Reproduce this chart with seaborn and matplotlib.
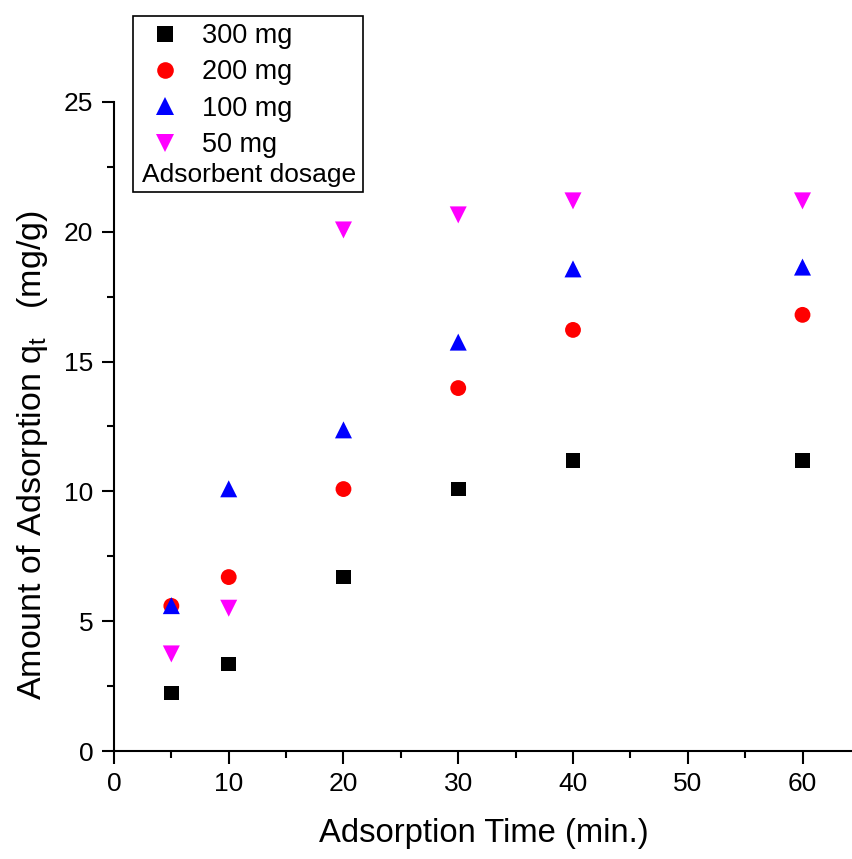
import matplotlib
matplotlib.use("Agg")
import matplotlib.pyplot as plt
from matplotlib.ticker import MultipleLocator
from matplotlib.patches import Rectangle
from matplotlib.lines import Line2D
import seaborn as sns
import pandas as pd

time_min = [5, 10, 20, 30, 40, 60]
q_300 = [2.23, 3.35, 6.70, 10.09, 11.20, 11.20]
q_200 = [5.59, 6.70, 10.09, 13.98, 16.22, 16.80]
q_100 = [5.60, 10.10, 12.37, 15.75, 18.57, 18.64]
q_50 = [3.74, 5.50, 20.07, 20.65, 21.19, 21.19]
series_labels = ["300 mg", "200 mg", "100 mg", "50 mg"]
legend_title = "Adsorbent dosage"

sns.set_theme(style="ticks")
plt.rcParams['font.family'] = ['Liberation Sans', 'DejaVu Sans']
plt.rcParams.update({
    "text.color": "black", "axes.labelcolor": "black",
    "xtick.color": "black", "ytick.color": "black",
    "mathtext.fontset": "custom", "mathtext.rm": "Liberation Sans",
    "mathtext.it": "Liberation Sans", "mathtext.default": "regular",
})

fig = plt.figure(figsize=(8.53, 8.59), dpi=100)
ax = fig.add_axes([0.1336, 0.1257, 0.8664, 0.7556])

styles = [
    ("s", "black", 110),
    ("o", "#ff0000", 130),
    ("^", "#0000ff", 150),
    ("v", "#ff00ff", 150),
]
all_q = [q_300, q_200, q_100, q_50]
handles = []
for q, lab, (m, c, s) in zip(all_q, series_labels, styles):
    df = pd.DataFrame({"t": time_min, "q": q})
    sns.scatterplot(data=df, x="t", y="q", marker=m, color=c, s=s,
                    edgecolor="none", linewidth=0, ax=ax, zorder=3)
    handles.append(Line2D([], [], marker=m, color=c, linestyle="none",
                          markersize=s ** 0.5 * 1.05, markeredgewidth=0))

ax.set_xlim(0, 64.4)
ax.set_ylim(0, 25)
ax.xaxis.set_major_locator(MultipleLocator(10))
ax.xaxis.set_minor_locator(MultipleLocator(5))
ax.yaxis.set_major_locator(MultipleLocator(5))
ax.yaxis.set_minor_locator(MultipleLocator(2.5))
for sp in ["top", "right"]:
    ax.spines[sp].set_visible(False)
for sp in ["left", "bottom"]:
    ax.spines[sp].set_linewidth(1.5)
    ax.spines[sp].set_color("black")
ax.tick_params(which="major", direction="out", length=9, width=1.5,
               labelsize=19, colors="black", pad=6)
ax.tick_params(which="minor", direction="out", length=5, width=1.5,
               colors="black")
ax.set_xlabel("Adsorption Time (min.)", fontsize=23.6, labelpad=16)
ax.set_ylabel("Amount of Adsorption q$_t$   (mg/g)", fontsize=24.5)
ax.yaxis.set_label_coords(-0.087, 0.456)

leg = fig.legend(handles=handles, labels=series_labels, loc="upper left",
                 bbox_to_anchor=(0.177, 0.973), frameon=False, fontsize=19.5,
                 handlelength=1.0, handletextpad=0.9, labelspacing=0.38,
                 borderpad=0, borderaxespad=0)
fig.text(0.1665, 0.796, legend_title, fontsize=19, ha="left", va="center")
fig.patches.append(Rectangle((0.156, 0.776), 0.270, 0.205, fill=False,
                             edgecolor="black", linewidth=1.2,
                             transform=fig.transFigure, figure=fig))

fig.savefig("out.png", dpi=100)
